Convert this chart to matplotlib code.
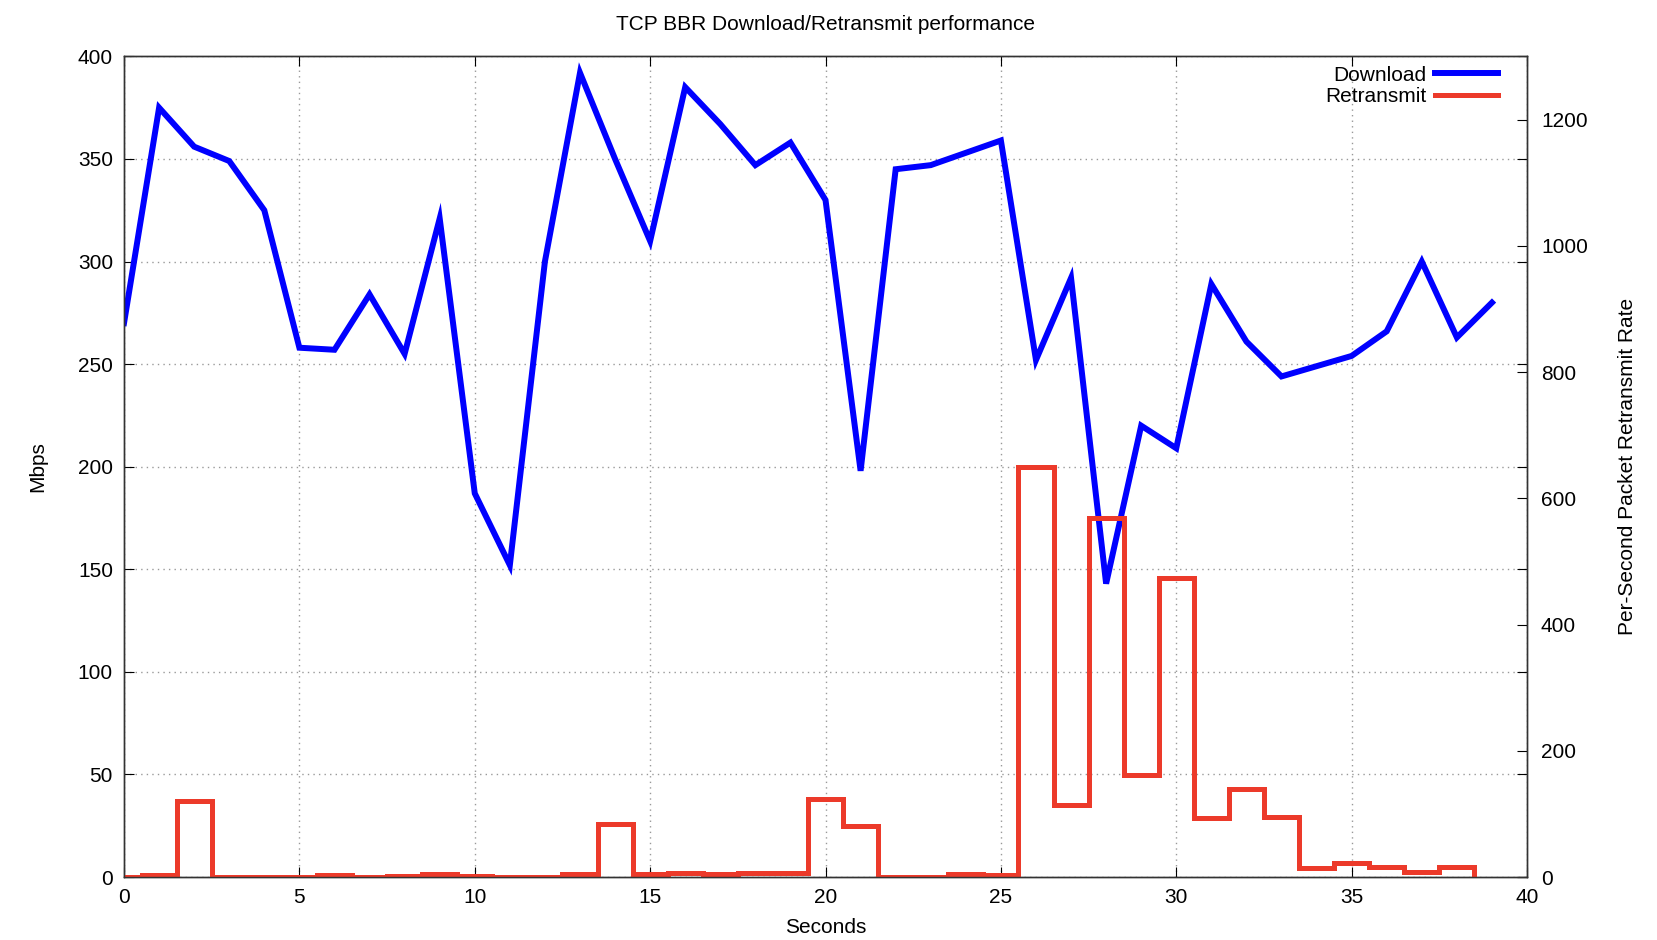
import numpy as np
import matplotlib
matplotlib.use("Agg")
import matplotlib.pyplot as plt

plt.rcParams['font.family'] = ['Liberation Sans', 'DejaVu Sans']

# Download throughput (Mbps), one sample per second
seconds = list(range(40))
download = [270, 375, 356, 349, 325, 258, 257, 284, 255, 321,
            187, 152, 300, 392, 350, 310, 385, 367, 347, 358,
            330, 198, 345, 347, 353, 359, 252, 292, 143, 220,
            209, 289, 261, 244, 249, 254, 266, 300, 263, 280]

# Per-second retransmits, drawn as centred steps (seconds 0..38)
retrans = [0, 3, 121, 0, 0, 0, 3, 0, 2, 4,
           2, 0, 0, 4, 84, 5, 7, 5, 7, 7,
           124, 81, 0, 0, 4, 3, 650, 114, 569, 161,
           473, 93, 139, 95, 14, 22, 16, 8, 16]

BLUE = "#0000ff"
RED = "#ec3a2a"

fig = plt.figure(figsize=(16.58, 9.40), dpi=100)
ax = fig.add_axes([0.0748, 0.067, 0.8462, 0.873])
ax2 = ax.twinx()

l1, = ax.plot(seconds, download, color=BLUE, lw=4.3, solid_joinstyle='miter', label="Download")
edges = np.arange(len(retrans) + 1) - 0.5
ax2.stairs(retrans, edges, baseline=0, color=RED, lw=3.6)
l2, = ax2.plot([], [], color=RED, lw=3.6)

ax.set_xlim(0, 40)
ax.set_ylim(0, 400)
ax2.set_ylim(0, 1300)
ax.set_xticks(range(0, 41, 5))
ax.set_yticks(range(0, 401, 50))
ax2.set_yticks(range(0, 1201, 200))

ax.grid(True, linestyle=(0, (1, 3)), color="#999999", lw=1)
ax.tick_params(direction='in', length=7, labelsize=15, top=True, right=True, pad=8)
ax2.tick_params(direction='in', length=7, labelsize=15, pad=10)
for a in (ax, ax2):
    for s in a.spines.values():
        s.set_color("#333333")
        s.set_linewidth(1)

ax.set_title("TCP BBR Download/Retransmit performance", fontsize=15, pad=19)
ax.set_xlabel("Seconds", fontsize=15, labelpad=8)
ax.set_ylabel("Mbps", fontsize=15, labelpad=22)
ax2.set_ylabel("Per-Second Packet Retransmit Rate", fontsize=15, labelpad=22)

ax2.legend([l1, l2], ["Download", "Retransmit"], loc='upper right', frameon=False,
           markerfirst=False, fontsize=15, handlelength=3, handletextpad=0.4,
           labelspacing=0.12, borderaxespad=0, bbox_to_anchor=(0.985, 0.999))

fig.savefig("out.png", dpi=100)
